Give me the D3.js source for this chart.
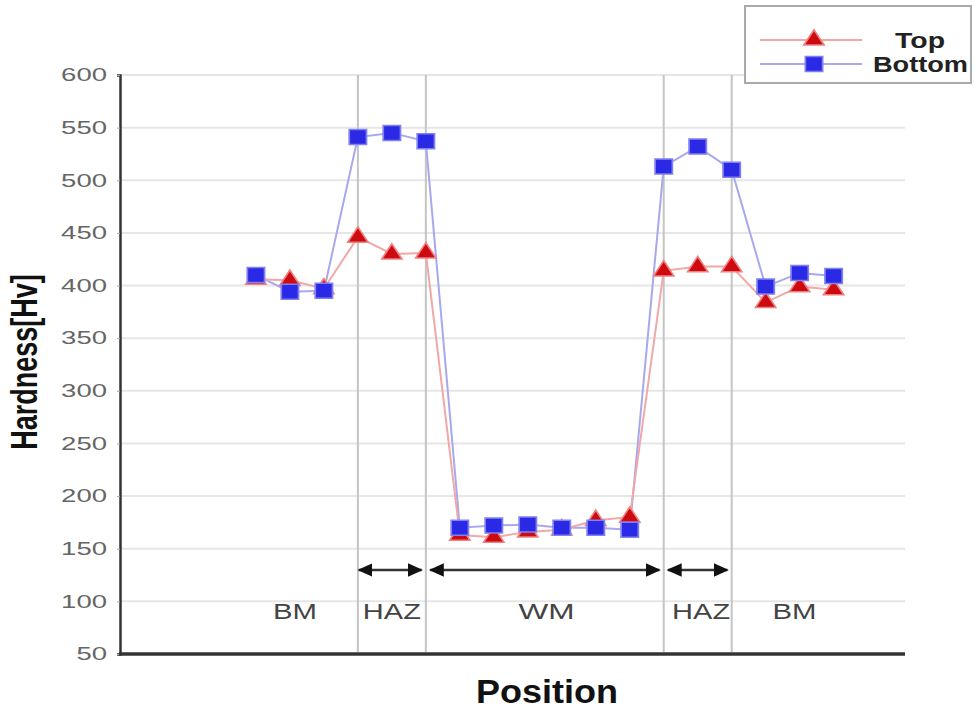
<!DOCTYPE html>
<html><head><meta charset="utf-8">
<script src="https://cdn.jsdelivr.net/npm/d3@7"></script>
<style>body{margin:0;background:#fff}svg{display:block}</style>
</head><body>
<svg id="c" width="974" height="710"></svg>
<script>
const positions = d3.range(18);
const topValues = [406, 405, 397, 446, 430, 431, 163, 161, 166, 168, 177, 180, 414, 418, 418, 384, 399, 396];
const bottomValues = [410, 394, 395, 541, 545, 537, 170, 172, 173, 170, 170, 168, 513, 532, 510, 399, 412, 409];
const yTicks = [50, 100, 150, 200, 250, 300, 350, 400, 450, 500, 550, 600];
const boundaries = [3, 5, 12, 14];
const zones = [
  {label: "BM", at: 1.15, w: 44},
  {label: "HAZ", at: 4, w: 58},
  {label: "WM", at: 8.55, w: 56},
  {label: "HAZ", at: 13.1, w: 58},
  {label: "BM", at: 15.85, w: 44}
];
const arrows = [[3, 4.9], [5.1, 11.9], [12.1, 13.9]];
const seriesNames = ["Top", "Bottom"];

const FONT = "Liberation Sans, Arial, sans-serif";
const svg = d3.select("#c");
const x = d3.scaleLinear().domain([-4, 19.1]).range([120, 905]);
const y = d3.scaleLinear().domain([50, 600]).range([654, 75]);

// gridlines
svg.append("g").selectAll("line").data(yTicks.filter(t => t > 50)).join("line")
  .attr("x1", 120).attr("x2", 905)
  .attr("y1", d => y(d)).attr("y2", d => y(d))
  .attr("stroke", "#e6e6e6").attr("stroke-width", 2);

// y axis
const yAxis = d3.axisLeft(y).tickValues(yTicks).tickSize(3).tickPadding(10);
const gy = svg.append("g").attr("transform", "translate(120,0)").call(yAxis);
gy.select(".domain").attr("stroke", "#333").attr("stroke-width", 2.5);
gy.selectAll(".tick line").attr("stroke", "#aaa");
gy.selectAll(".tick text").attr("fill", "#666").attr("font-size", 18)
  .attr("font-family", FONT)
  .attr("textLength", d => String(d).length * 15.3)
  .attr("lengthAdjust", "spacingAndGlyphs");

// x axis line
svg.append("line").attr("x1", 119).attr("x2", 905).attr("y1", 654).attr("y2", 654)
  .attr("stroke", "#333").attr("stroke-width", 3.5);

// boundary lines
svg.append("g").selectAll("line").data(boundaries).join("line")
  .attr("x1", d => x(d)).attr("x2", d => x(d))
  .attr("y1", 75).attr("y2", 652)
  .attr("stroke", "#c4c4c4").attr("stroke-width", 2);

// arrows
const defs = svg.append("defs");
defs.append("marker").attr("id", "arr")
  .attr("viewBox", "0 0 10 10").attr("refX", 9).attr("refY", 5)
  .attr("markerWidth", 5.8).attr("markerHeight", 5.8).attr("orient", "auto-start-reverse")
  .append("path").attr("d", "M0,0.5L10,5L0,9.5Z").attr("fill", "#111");
svg.append("g").selectAll("line").data(arrows).join("line")
  .attr("x1", d => x(d[0]) + 1).attr("x2", d => x(d[1]) - 1)
  .attr("y1", 570).attr("y2", 570)
  .attr("stroke", "#333").attr("stroke-width", 2.6)
  .attr("marker-start", "url(#arr)").attr("marker-end", "url(#arr)");

// zone labels
svg.append("g").selectAll("text").data(zones).join("text")
  .attr("x", d => x(d.at) - d.w / 2).attr("y", 619)
  .attr("font-size", 22)
  .attr("textLength", d => d.w).attr("lengthAdjust", "spacingAndGlyphs")
  .attr("font-family", FONT).attr("fill", "#444")
  .text(d => d.label);

// lines
const line = d3.line().x((d, i) => x(positions[i])).y(d => y(d));
svg.append("path").datum(bottomValues).attr("d", line)
  .attr("fill", "none").attr("stroke", "#a8a8ee").attr("stroke-width", 2);
svg.append("path").datum(topValues).attr("d", line)
  .attr("fill", "none").attr("stroke", "#f0a8a8").attr("stroke-width", 2);

const tri = d3.symbol().type(d3.symbolTriangle).size(135);
const sq = d3.symbol().type(d3.symbolSquare).size(225);

svg.append("g").selectAll("path").data(topValues).join("path")
  .attr("d", tri)
  .attr("transform", (d, i) => `translate(${x(positions[i])},${y(d)}) scale(1.15,1)`)
  .attr("fill", "#cc0a10").attr("stroke", "#f08080").attr("stroke-width", 1.5);
svg.append("g").selectAll("path").data(bottomValues).join("path")
  .attr("d", sq)
  .attr("transform", (d, i) => `translate(${x(positions[i])},${y(d)}) scale(1.15,1)`)
  .attr("fill", "#2a2ae6").attr("stroke", "#8080f0").attr("stroke-width", 1.5);

// axis titles
svg.append("text").attr("transform", "translate(37,362) rotate(-90) scale(1,1.4)")
  .attr("text-anchor", "middle").attr("font-size", 27).attr("font-weight", "bold")
  .attr("font-family", FONT).attr("fill", "#111")
  .text("Hardness[Hv]");
svg.append("text").attr("x", 476).attr("y", 703)
  .attr("font-size", 33).attr("font-weight", "bold")
  .attr("textLength", 142).attr("lengthAdjust", "spacingAndGlyphs")
  .attr("font-family", FONT).attr("fill", "#111")
  .text("Position");

// legend
const lg = svg.append("g");
lg.append("rect").attr("x", 745).attr("y", 6).attr("width", 226).attr("height", 77)
  .attr("fill", "#fff").attr("stroke", "#aaa").attr("stroke-width", 2);
const legendRows = [
  {name: seriesNames[0], color: "#f0a8a8", sym: tri, fill: "#cc0a10", stroke: "#f08080", y: 40, tx: 895, w: 50},
  {name: seriesNames[1], color: "#a8a8ee", sym: sq, fill: "#2a2ae6", stroke: "#8080f0", y: 64, tx: 873, w: 95}
];
legendRows.forEach(r => {
  lg.append("line").attr("x1", 760).attr("x2", 862).attr("y1", r.y).attr("y2", r.y)
    .attr("stroke", r.color).attr("stroke-width", 2);
  lg.append("path").attr("d", r.sym).attr("transform", `translate(814,${r.y}) scale(1.15,1)`)
    .attr("fill", r.fill).attr("stroke", r.stroke).attr("stroke-width", 1.5);
  lg.append("text").attr("x", r.tx).attr("y", r.y + 8)
    .attr("font-size", 22).attr("font-weight", "bold")
    .attr("textLength", r.w).attr("lengthAdjust", "spacingAndGlyphs")
    .attr("font-family", FONT).attr("fill", "#222")
    .text(r.name);
});
</script>
</body></html>
